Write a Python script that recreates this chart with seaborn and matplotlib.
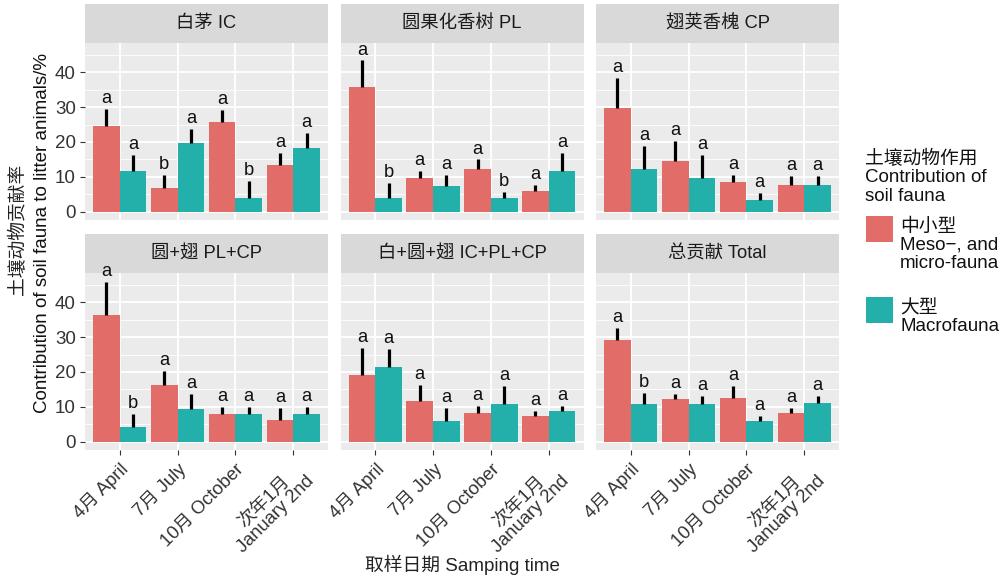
import numpy as np
import pandas as pd
import matplotlib
matplotlib.use("Agg")
import matplotlib.pyplot as plt
from matplotlib.patches import Rectangle
from matplotlib.ticker import MultipleLocator
import seaborn as sns

# ---- data -------------------------------------------------------------
dates = ["4月 April", "7月 July", "10月 October", "次年1月\nJanuary 2nd"]
panels = ["白茅 IC", "圆果化香树 PL", "翅荚香槐 CP",
          "圆+翅 PL+CP", "白+圆+翅 IC+PL+CP", "总贡献 Total"]
fauna = ["中小型\nMeso−, and\nmicro-fauna", "大型\nMacrofauna"]

meso_mean = [
    [24.6, 6.8, 25.6, 13.5],
    [35.6, 9.8, 12.2, 5.9],
    [29.7, 14.5, 8.7, 7.8],
    [36.2, 16.4, 8.1, 6.2],
    [19.0, 11.7, 8.3, 7.3],
    [29.1, 12.2, 12.7, 8.4],
]
meso_se = [
    [4.8, 3.8, 3.5, 3.3],
    [7.7, 1.9, 2.8, 1.8],
    [8.6, 5.8, 2.0, 2.6],
    [9.5, 3.8, 1.9, 3.5],
    [8.0, 4.7, 1.9, 1.5],
    [3.4, 1.4, 3.3, 1.4],
]
macro_mean = [
    [11.6, 19.7, 3.9, 18.4],
    [3.9, 7.4, 3.9, 11.6],
    [12.2, 9.8, 3.5, 7.8],
    [4.3, 9.5, 8.1, 8.1],
    [21.3, 5.9, 10.8, 8.8],
    [10.8, 10.8, 5.9, 11.2],
]
macro_se = [
    [4.8, 4.0, 4.9, 4.3],
    [4.5, 3.3, 1.8, 5.3],
    [6.6, 6.6, 1.8, 2.5],
    [3.8, 4.3, 1.9, 1.9],
    [5.3, 3.8, 5.1, 1.4],
    [3.3, 2.3, 1.4, 1.9],
]
meso_letters = [
    ["a", "b", "a", "a"],
    ["a", "a", "a", "a"],
    ["a", "a", "a", "a"],
    ["a", "a", "a", "a"],
    ["a", "a", "a", "a"],
    ["a", "a", "a", "a"],
]
macro_letters = [
    ["a", "a", "b", "a"],
    ["b", "a", "b", "a"],
    ["a", "a", "a", "a"],
    ["b", "a", "a", "a"],
    ["a", "a", "a", "a"],
    ["b", "a", "a", "a"],
]

rows = []
for p, panel in enumerate(panels):
    for d, date in enumerate(dates):
        rows.append(dict(panel=panel, date=date, fauna=fauna[0],
                         mean=meso_mean[p][d], se=meso_se[p][d],
                         letter=meso_letters[p][d]))
        rows.append(dict(panel=panel, date=date, fauna=fauna[1],
                         mean=macro_mean[p][d], se=macro_se[p][d],
                         letter=macro_letters[p][d]))
df = pd.DataFrame(rows)

# ---- style ------------------------------------------------------------
sns.set_theme(style="darkgrid")
plt.rcParams["font.family"] = ["Liberation Sans", "Noto Sans CJK SC", "DejaVu Sans"]
plt.rcParams["axes.unicode_minus"] = False

colors = {fauna[0]: "#E26D68", fauna[1]: "#23B0AB"}
panel_bg = "#EBEBEB"
strip_bg = "#D9D9D9"
text_col = "#333333"

W, H = 1001, 581
fig = plt.figure(figsize=(W / 100, H / 100), dpi=100)
fig.patch.set_facecolor("white")

col_left = [85, 340.5, 596]
col_w = 243
row_strip_top = [4, 234]
strip_h = 39
panel_h = 177


def fx(px):
    return px / W


def fy(py):
    return 1 - py / H


for p, panel in enumerate(panels):
    r, c = divmod(p, 3)
    left = col_left[c]
    stop = row_strip_top[r]
    ptop = stop + strip_h
    # strip header
    sax = fig.add_axes([fx(left), fy(stop + strip_h), col_w / W, strip_h / H])
    sax.set_facecolor(strip_bg)
    sax.set_xticks([]); sax.set_yticks([])
    sax.grid(False)
    for s in sax.spines.values():
        s.set_visible(False)
    sax.text(0.5, 0.5, panel, ha="center", va="center", fontsize=13.2,
             color="#1A1A1A", transform=sax.transAxes)

    # panel
    ax = fig.add_axes([fx(left), fy(ptop + panel_h), col_w / W, panel_h / H])
    ax.set_facecolor(panel_bg)
    sub = df[df.panel == panel]
    sns.barplot(data=sub, x="date", y="mean", hue="fauna", order=dates,
                hue_order=fauna, palette=colors, width=0.92, errorbar=None,
                saturation=1, linewidth=0, legend=False, ax=ax)
    for cont, fa in zip(ax.containers, fauna):
        fsub = sub[sub.fauna == fa].set_index("date").loc[dates]
        for bar, (_, rec) in zip(cont, fsub.iterrows()):
            x = bar.get_x() + bar.get_width() / 2
            ax.errorbar(x, rec["mean"], yerr=[[0], [rec["se"]]], fmt="none",
                        ecolor="black", elinewidth=2.3, capsize=0, zorder=3)
            ax.text(x, rec["mean"] + rec["se"] + 1.7, rec["letter"],
                    ha="center", va="baseline", fontsize=13.2, color="#111111")

    ax.set_xlim(-0.6, 3.6)
    ax.set_ylim(-2.3, 48.3)
    ax.yaxis.set_major_locator(MultipleLocator(10))
    ax.yaxis.set_minor_locator(MultipleLocator(5))
    ax.grid(which="major", color="white", linewidth=1.3)
    ax.grid(which="minor", axis="y", color="white", linewidth=0.6)
    ax.set_axisbelow(True)
    for s in ax.spines.values():
        s.set_visible(False)
    ax.set_xlabel(""); ax.set_ylabel("")

    if c == 0:
        ax.set_yticks([0, 10, 20, 30, 40])
        ax.set_yticklabels(["0", "10", "20", "30", "40"])
        ax.tick_params(axis="y", which="major", left=True, length=3.5,
                       width=0.8, color=text_col, labelsize=13.5,
                       labelcolor=text_col, pad=3)
    else:
        ax.tick_params(axis="y", which="both", left=False, labelleft=False)
    ax.tick_params(axis="y", which="minor", left=False)

    if r == 1:
        ax.set_xticks(range(len(dates)))
        ax.set_xticklabels(dates, rotation=45, ha="right", va="top",
                           rotation_mode="anchor", multialignment="center",
                           linespacing=1.0)
        ax.tick_params(axis="x", bottom=True, length=3.5, width=0.8,
                       color=text_col, labelsize=13.2, labelcolor=text_col,
                       pad=4)
    else:
        ax.tick_params(axis="x", bottom=False, labelbottom=False)

# axis titles
fig.text(fx(18), fy(229), "土壤动物贡献率", rotation=90, ha="center",
         va="center", fontsize=13.5, color="#222222")
fig.text(fx(43), fy(233), "Contribution of soil fauna to litter animals/%",
         rotation=90, ha="center", va="center", fontsize=13.5, color="#111111")
fig.text(fx(462), fy(565), "取样日期 Samping time", ha="center",
         va="center", fontsize=13.5, color="#222222")

# legend: title, colour keys and their labels
fig.text(fx(865), fy(150), "土壤动物作用\nContribution of\nsoil fauna",
         ha="left", va="top", fontsize=13.5, linespacing=1.1, color="#111111")
key_tops = [216, 297]
label_tops = [219, 300]
for fa, kt, lt in zip(fauna, key_tops, label_tops):
    fig.patches.append(Rectangle((fx(866), fy(kt + 26)), 27 / W, 26 / H,
                                 transform=fig.transFigure,
                                 facecolor=colors[fa], edgecolor="none"))
    fig.text(fx(900), fy(lt), fa, ha="left", va="top", fontsize=13.5,
             linespacing=1.05, color="#111111")

fig.savefig("out.png", dpi=100, facecolor="white")
